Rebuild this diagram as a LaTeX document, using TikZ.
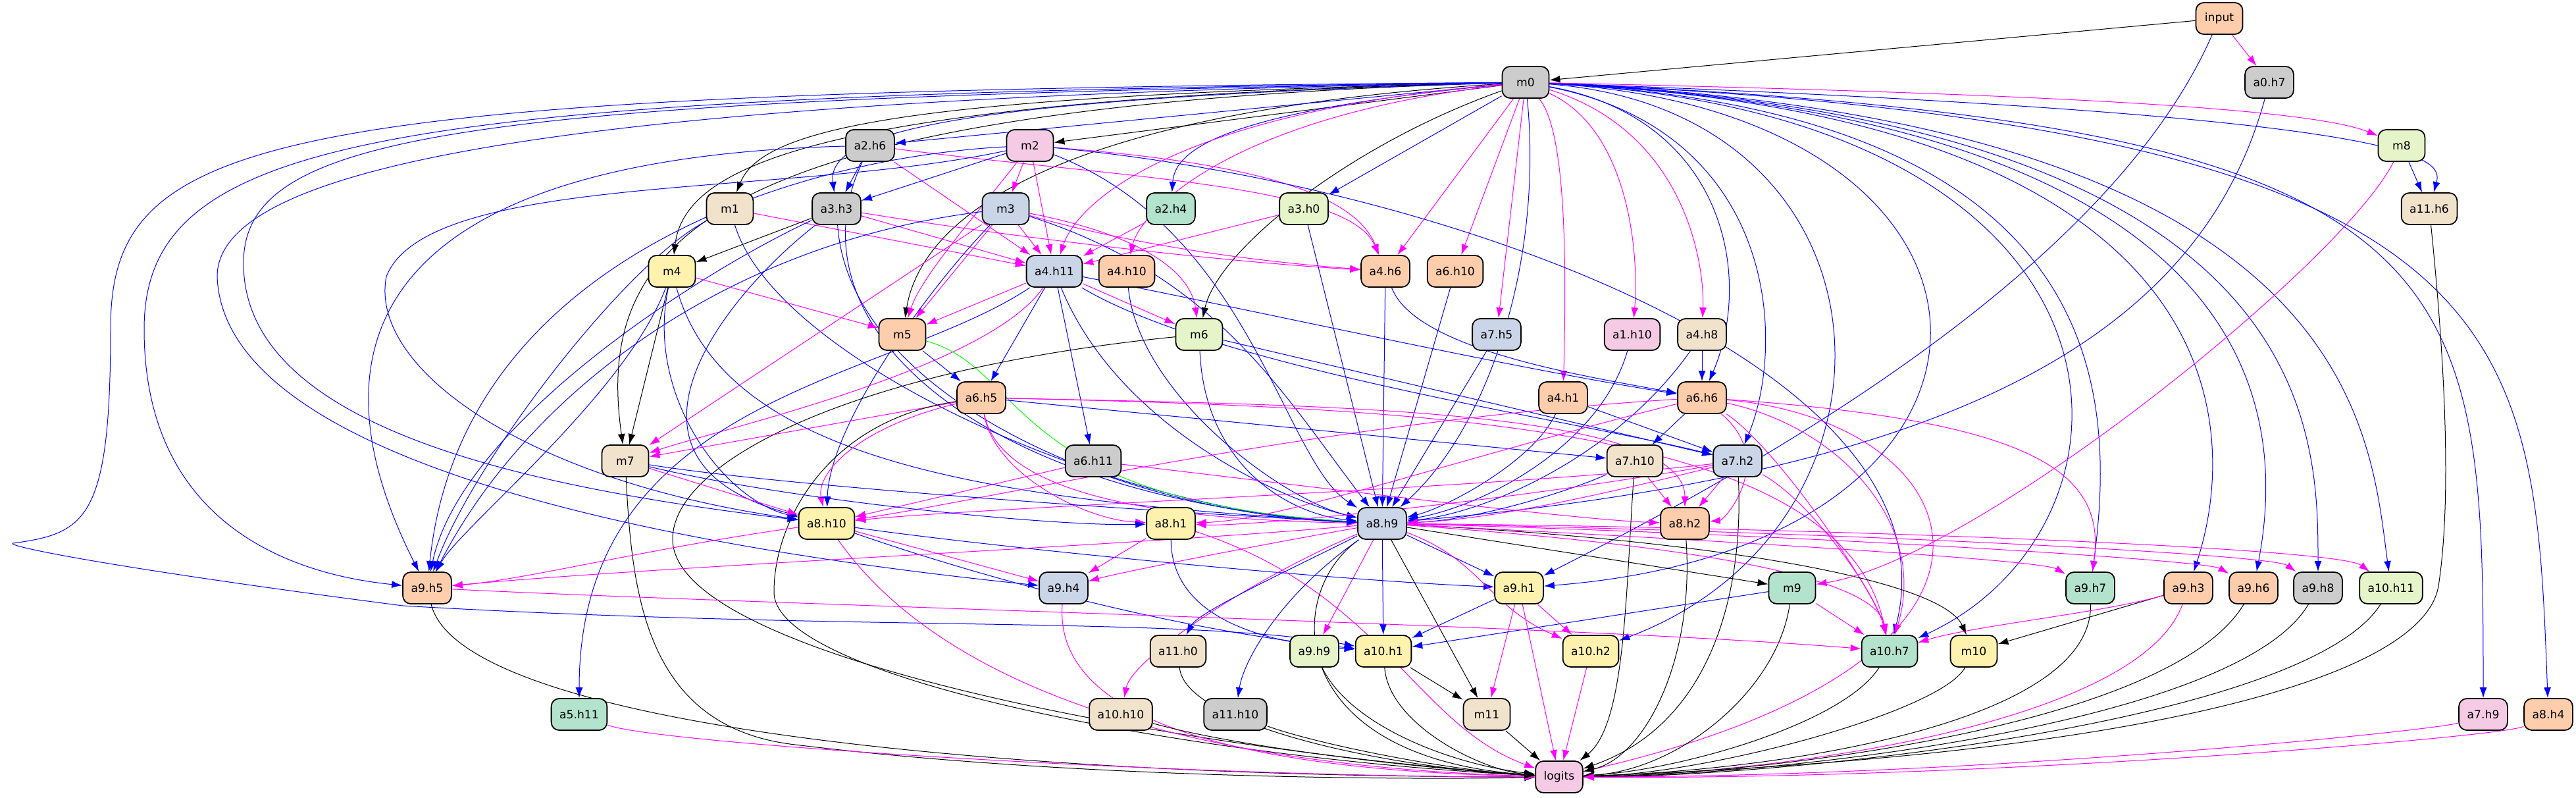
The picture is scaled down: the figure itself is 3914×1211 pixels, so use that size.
\documentclass[tikz,border=0pt]{standalone}
\usepackage{fontspec}
\setmainfont{DejaVu Sans}
\usetikzlibrary{arrows.meta}
\pgfdeclarelayer{back}
\pgfdeclarelayer{edges}
\pgfsetlayers{back,edges,main}
\definecolor{pgray}{HTML}{CCCCCC}
\definecolor{porange}{HTML}{FDCDAC}
\definecolor{pblue}{HTML}{CBD5E8}
\definecolor{ppink}{HTML}{F4CAE4}
\definecolor{plime}{HTML}{E6F5C9}
\definecolor{pyellow}{HTML}{FFF2AE}
\definecolor{pbeige}{HTML}{F1E2CC}
\definecolor{pgreen}{HTML}{B3E2CD}
\definecolor{qblue}{HTML}{0000FF}
\definecolor{qmagenta}{HTML}{FF00FF}
\definecolor{qgreen}{HTML}{00FF00}
\tikzstyle{block} = [rectangle, draw, line width=0.9pt, rounded corners=6pt, minimum width=35.5pt, minimum height=24pt, inner xsep=6.25pt, font=\fontsize{8.6}{10}\selectfont]
\tikzstyle{gblock} = [block, fill=pgray]
\tikzstyle{oblock} = [block, fill=porange]
\tikzstyle{bblock} = [block, fill=pblue]
\tikzstyle{pblock} = [block, fill=ppink]
\tikzstyle{lblock} = [block, fill=plime]
\tikzstyle{yblock} = [block, fill=pyellow]
\tikzstyle{eblock} = [block, fill=pbeige]
\tikzstyle{tblock} = [block, fill=pgreen]
\tikzstyle{line} = [draw, line width=0.5pt, -{Latex[length=8pt,width=5.5pt]}]
\tikzstyle{bline} = [line, qblue]
\tikzstyle{pline} = [line, qmagenta]
\tikzstyle{kline} = [line, black]
\tikzstyle{gline} = [line, qgreen]

\begin{document}
\begin{tikzpicture}[x=0.5pt, y=-0.5pt]
    \begin{pgfonlayer}{back}
    \path [fill=white] (0,0) rectangle (3914,1211);
    \end{pgfonlayer}
    \useasboundingbox (0,0) rectangle (3914,1211);
    % Place nodes
    \node [oblock] (input) at (3372,28) {input};
    \node [gblock] (m0) at (2318,125) {m0};
    \node [gblock] (a0h7) at (3448,125) {a0.h7};
    \node [gblock] (a2h6) at (1322,221) {a2.h6};
    \node [pblock] (m2) at (1565,221) {m2};
    \node [lblock] (m8) at (3649,221) {m8};
    \node [eblock] (m1) at (1109,317) {m1};
    \node [gblock] (a3h3) at (1271,317) {a3.h3};
    \node [bblock] (m3) at (1528,317) {m3};
    \node [tblock] (a2h4) at (1779,317) {a2.h4};
    \node [lblock] (a3h0) at (1981,317) {a3.h0};
    \node [eblock] (a11h6) at (3691,317) {a11.h6};
    \node [yblock] (m4) at (1021,412) {m4};
    \node [bblock] (a4h11) at (1602,412) {a4.h11};
    \node [oblock] (a4h10) at (1712,412) {a4.h10};
    \node [oblock] (a4h6) at (2105,412) {a4.h6};
    \node [oblock] (a6h10) at (2211,412) {a6.h10};
    \node [oblock] (m5) at (1371,508) {m5};
    \node [lblock] (m6) at (1822,508) {m6};
    \node [bblock] (a7h5) at (2274,508) {a7.h5};
    \node [pblock] (a1h10) at (2480,508) {a1.h10};
    \node [eblock] (a4h8) at (2586,508) {a4.h8};
    \node [oblock] (a6h5) at (1491,604) {a6.h5};
    \node [oblock] (a4h1) at (2375,604) {a4.h1};
    \node [oblock] (a6h6) at (2586,604) {a6.h6};
    \node [eblock] (m7) at (950,700) {m7};
    \node [gblock] (a6h11) at (1661,700) {a6.h11};
    \node [eblock] (a7h10) at (2484,700) {a7.h10};
    \node [bblock] (a7h2) at (2640,700) {a7.h2};
    \node [yblock] (a8h10) at (1256,795) {a8.h10};
    \node [yblock] (a8h1) at (1779,795) {a8.h1};
    \node [bblock] (a8h9) at (2100,795) {a8.h9};
    \node [oblock] (a8h2) at (2560,795) {a8.h2};
    \node [oblock] (a9h5) at (649,893) {a9.h5};
    \node [bblock] (a9h4) at (1616,893) {a9.h4};
    \node [yblock] (a9h1) at (2308,893) {a9.h1};
    \node [tblock] (m9) at (2723,893) {m9};
    \node [tblock] (a9h7) at (3176,893) {a9.h7};
    \node [oblock] (a9h3) at (3325,893) {a9.h3};
    \node [oblock] (a9h6) at (3424,893) {a9.h6};
    \node [gblock] (a9h8) at (3522,893) {a9.h8};
    \node [lblock] (a10h11) at (3633,893) {a10.h11};
    \node [eblock] (a11h0) at (1790,989) {a11.h0};
    \node [lblock] (a9h9) at (1997,989) {a9.h9};
    \node [yblock] (a10h1) at (2102,989) {a10.h1};
    \node [yblock] (a10h2) at (2417,989) {a10.h2};
    \node [tblock] (a10h7) at (2871,989) {a10.h7};
    \node [yblock] (m10) at (2999,989) {m10};
    \node [tblock] (a5h11) at (880,1085) {a5.h11};
    \node [eblock] (a10h10) at (1703,1085) {a10.h10};
    \node [gblock] (a11h10) at (1877,1085) {a11.h10};
    \node [eblock] (m11) at (2259,1085) {m11};
    \node [pblock] (a7h9) at (3773,1085) {a7.h9};
    \node [oblock] (a8h4) at (3872,1085) {a8.h4};
    \node [pblock] (logits) at (2369,1180) {logits};
    % Draw edges
    \begin{pgfonlayer}{edges}
    \path [kline] (input) -- (m0);
    \path [pline] (input) -- (a0h7);
    \path [bline] (input) .. controls (3200,420) and (2650,720) .. (a9h1);
    \path [bline] (a0h7) .. controls (3340,520) and (2950,720) .. (a8h9);
    % from m0
    \path [kline] (m0) -- (m2);
    \path [kline] (m0) .. controls (1400,145) and (1160,190) .. (m1);
    \path [kline] (m0) .. controls (1250,150) and (1040,250) .. (m4);
    \path [kline] (m0) .. controls (1600,170) and (1400,330) .. (m5);
    \path [kline] (m0) .. controls (2050,220) and (1850,380) .. (m6);
    \path [kline] (m0) .. controls (1100,160) and (900,350) .. (m7);
    \path [bline] (m0) -- (a2h6);
    \path [bline] (m0) .. controls (1450,150) and (1255,200) .. (a3h3);
    \path [bline] (m0) .. controls (1850,170) and (1785,230) .. (a2h4);
    \path [bline] (m0) -- (a3h0);
    \path [bline] (m0) .. controls (2345,400) and (2260,650) .. (a8h9);
    \path [bline] (m0) .. controls (2620,180) and (2665,420) .. (a6h6);
    \path [bline] (m0) .. controls (2700,200) and (2715,520) .. (a7h2);
    \path [bline] (m0) .. controls (2900,170) and (2920,800) .. (a10h2);
    \path [bline] (m0) .. controls (3120,170) and (3130,830) .. (a9h1);
    \path [bline] (m0) .. controls (3210,170) and (3215,600) .. (a9h7);
    \path [bline] (m0) .. controls (3290,175) and (3280,800) .. (a10h7);
    \path [bline] (m0) .. controls (3400,175) and (3405,650) .. (a9h3);
    \path [bline] (m0) .. controls (3470,180) and (3470,650) .. (a9h6);
    \path [bline] (m0) .. controls (3520,180) and (3522,650) .. (a9h8);
    \path [bline] (m0) .. controls (3580,180) and (3600,650) .. (a10h11);
    \path [bline] (m0) .. controls (3690,175) and (3712,240) .. (a11h6);
    \path [bline] (m0) .. controls (3760,185) and (3773,400) .. (a7h9);
    \path [bline] (m0) .. controls (3840,190) and (3850,500) .. (a8h4);
    \path [bline] (m0) .. controls (400,140) and (168,200) .. (168,500) .. controls (168,790) and (130,810) .. (20,825) .. controls (5,828) and (150,860) .. (612,920) .. controls (1300,960) and (1800,935) .. (a10h1);
    \path [bline] (m0) .. controls (600,145) and (219,200) .. (219,500) .. controls (219,780) and (420,870) .. (a9h5);
    \path [bline] (m0) .. controls (700,150) and (370,200) .. (370,400) .. controls (370,650) and (800,740) .. (a8h10);
    \path [bline] (m0) .. controls (800,150) and (330,260) .. (330,420) .. controls (340,700) and (1000,830) .. (a9h4);
    \path [pline] (m0) .. controls (1800,170) and (1640,300) .. (a4h11);
    \path [pline] (m0) .. controls (1850,180) and (1730,330) .. (a4h10);
    \path [pline] (m0) -- (a4h6);
    \path [pline] (m0) -- (a6h10);
    \path [pline] (m0) -- (a7h5);
    \path [pline] (m0) .. controls (2380,200) and (2380,400) .. (a4h1);
    \path [pline] (m0) .. controls (2480,200) and (2490,400) .. (a1h10);
    \path [pline] (m0) .. controls (2560,200) and (2590,400) .. (a4h8);
    \path [pline] (m0) .. controls (3000,140) and (3500,160) .. (m8);
    % layers 1 to 3
    \path [bline] (a2h6) -- (a3h3);
    \path [pline] (a2h6) -- (a4h11);
    \path [pline] (a2h6) .. controls (1700,270) and (2050,280) .. (a4h6);
    \path [bline] (a2h6) .. controls (600,240) and (450,500) .. (a9h5);
    \path [bline] (a2h6) .. controls (1190,500) and (1500,760) .. (a8h9);
    \path [pline] (m2) -- (m3);
    \path [pline] (m2) -- (a4h11);
    \path [pline] (m2) .. controls (1480,330) and (1400,420) .. (m5);
    \path [pline] (m2) .. controls (1800,240) and (2050,270) .. (a4h6);
    \path [bline] (m2) -- (a3h3);
    \path [bline] (m2) .. controls (1900,350) and (1950,700) .. (a8h9);
    \path [bline] (m2) .. controls (1200,240) and (700,400) .. (a9h5);
    \path [bline] (m2) .. controls (1200,300) and (650,260) .. (587,420) .. controls (560,560) and (800,730) .. (a8h10);
    \path [bline] (m2) .. controls (2200,280) and (2980,560) .. (a10h7);
    \path [pline] (m1) -- (a4h11);
    \path [bline] (m1) .. controls (950,400) and (720,700) .. (a9h5);
    \path [bline] (m1) .. controls (1180,550) and (1700,780) .. (a8h9);
    \path [kline] (a3h3) -- (m4);
    \path [pline] (a3h3) -- (a4h11);
    \path [pline] (a3h3) .. controls (1600,370) and (1900,400) .. (a4h6);
    \path [bline] (a3h3) .. controls (1050,420) and (700,650) .. (a9h5);
    \path [bline] (a3h3) .. controls (1100,450) and (900,700) .. (a8h10);
    \path [bline] (a3h3) .. controls (1290,600) and (1700,780) .. (a8h9);
    \path [pline] (m3) -- (a4h11);
    \path [pline] (m3) -- (m5);
    \path [pline] (m3) .. controls (1750,360) and (1810,420) .. (m6);
    \path [pline] (m3) -- (m7);
    \path [pline] (m3) .. controls (1750,380) and (1950,400) .. (a4h6);
    \path [bline] (m3) .. controls (1400,450) and (1260,650) .. (a8h10);
    \path [bline] (m3) .. controls (1100,370) and (800,600) .. (a9h5);
    \path [bline] (m3) .. controls (1850,420) and (1950,600) .. (a8h9);
    \path [pline] (a2h4) -- (a4h11);
    \path [pline] (a3h0) -- (a4h11);
    \path [bline] (a3h0) -- (a8h9);
    % layers 4 to 6
    \path [pline] (m4) -- (m5);
    \path [kline] (m4) -- (m7);
    \path [bline] (m4) .. controls (950,600) and (700,800) .. (a9h5);
    \path [bline] (m4) .. controls (980,600) and (1100,760) .. (a8h10);
    \path [bline] (m4) .. controls (1100,700) and (1500,760) .. (a8h9);
    \path [pline] (a4h11) -- (m5);
    \path [pline] (a4h11) -- (m6);
    \path [pline] (a4h11) .. controls (1500,560) and (1100,650) .. (m7);
    \path [bline] (a4h11) -- (a6h5);
    \path [bline] (a4h11) -- (a6h11);
    \path [bline] (a4h11) .. controls (1350,580) and (880,600) .. (a5h11);
    \path [bline] (a4h11) .. controls (1900,470) and (2300,560) .. (a6h6);
    \path [bline] (a4h11) .. controls (1850,560) and (2400,640) .. (a7h2);
    \path [bline] (a4h11) .. controls (1700,650) and (1950,760) .. (a8h9);
    \path [bline] (a4h10) .. controls (1730,600) and (1950,760) .. (a8h9);
    \path [bline] (a4h6) -- (a8h9);
    \path [bline] (a4h6) .. controls (2150,530) and (2400,570) .. (a6h6);
    \path [bline] (a6h10) -- (a8h9);
    \path [bline] (a7h5) -- (a8h9);
    \path [bline] (a1h10) .. controls (2430,680) and (2250,770) .. (a8h9);
    \path [bline] (a4h8) -- (a6h6);
    \path [bline] (a4h8) .. controls (2450,700) and (2250,780) .. (a8h9);
    \path [bline] (a4h1) .. controls (2330,700) and (2200,770) .. (a8h9);
    \path [bline] (a4h1) -- (a7h2);
    \path [bline] (m5) -- (a6h5);
    \path [gline] (m5) .. controls (1560,560) and (1530,760) .. (a8h9);
    \path [bline] (m6) .. controls (1830,700) and (1950,780) .. (a8h9);
    \path [bline] (m6) -- (a7h2);
    \path [kline] (m6) .. controls (1300,560) and (1020,700) .. (1022,820) .. controls (1025,1000) and (1800,1140) .. (logits);
    \path [pline] (a6h5) -- (m7);
    \path [pline] (a6h5) .. controls (1300,650) and (1240,720) .. (a8h10);
    \path [pline] (a6h5) .. controls (1510,720) and (1650,790) .. (a8h1);
    \path [pline] (a6h5) .. controls (1520,760) and (1800,790) .. (a8h9);
    \path [bline] (a6h5) -- (a7h10);
    \path [pline] (a6h5) .. controls (2000,615) and (2560,620) .. (a8h2);
    \path [pline] (a6h5) .. controls (2200,620) and (2800,650) .. (a10h7);
    \path [kline] (a6h5) .. controls (1250,640) and (1175,800) .. (1176,900) .. controls (1178,1030) and (1800,1150) .. (logits);
    \path [pline] (a6h11) -- (a8h10);
    \path [pline] (a6h11) .. controls (2000,740) and (2400,790) .. (a8h2);
    \path [bline] (a6h6) -- (a7h10);
    \path [pline] (a6h6) .. controls (2000,640) and (1500,760) .. (a8h10);
    \path [pline] (a6h6) .. controls (2200,700) and (1950,790) .. (a8h1);
    \path [pline] (a6h6) .. controls (2700,700) and (2620,790) .. (a8h2);
    \path [pline] (a6h6) .. controls (3100,640) and (3200,720) .. (a9h7);
    \path [pline] (a6h6) .. controls (2800,650) and (2930,800) .. (a10h7);
    \path [pline] (a6h6) .. controls (2700,680) and (2850,900) .. (a10h7);
    \path [pline] (a6h6) .. controls (3000,640) and (3150,1000) .. (logits);
    % layers 7 and 8
    \path [bline] (a7h10) .. controls (2400,740) and (2250,790) .. (a8h9);
    \path [pline] (a7h10) -- (a8h2);
    \path [kline] (a7h10) .. controls (2470,900) and (2470,1100) .. (logits);
    \path [pline] (a7h2) -- (a8h2);
    \path [pline] (a7h2) .. controls (2400,760) and (2250,790) .. (a8h9);
    \path [pline] (a7h2) .. controls (2300,740) and (1500,770) .. (a8h10);
    \path [pline] (a7h2) .. controls (2300,760) and (1900,800) .. (a8h1);
    \path [pline] (a7h2) .. controls (2750,760) and (2850,900) .. (a10h7);
    \path [kline] (a7h2) .. controls (2650,900) and (2600,1100) .. (logits);
    \path [pline] (m7) -- (a8h10);
    \path [bline] (m7) .. controls (1200,760) and (1600,800) .. (a8h1);
    \path [bline] (m7) .. controls (1200,740) and (1800,780) .. (a8h9);
    \path [kline] (m7) .. controls (960,900) and (980,1100) .. (1200,1130) .. controls (1600,1180) and (2100,1185) .. (logits);
    \path [pline] (a8h10) .. controls (1000,830) and (800,880) .. (a9h5);
    \path [pline] (a8h10) -- (a9h4);
    \path [bline] (a8h10) .. controls (1500,830) and (2000,880) .. (a9h1);
    \path [bline] (a8h10) .. controls (1500,880) and (1800,960) .. (a10h1);
    \path [pline] (a8h10) .. controls (1400,1000) and (1700,1160) .. (logits);
    \path [pline] (a8h1) -- (a9h4);
    \path [bline] (a8h1) .. controls (1780,930) and (1900,975) .. (a10h1);
    \path [pline] (a8h1) .. controls (2100,900) and (2150,1100) .. (logits);
    \path [bline] (a8h9) -- (a9h1);
    \path [bline] (a8h9) -- (a10h1);
    \path [pline] (a8h9) -- (a9h9);
    \path [kline] (a8h9) -- (m11);
    \path [kline] (a8h9) -- (m9);
    \path [kline] (a8h9) .. controls (2600,820) and (2950,880) .. (m10);
    \path [kline] (a8h9) .. controls (1950,900) and (1950,1150) .. (logits);
    \path [pline] (a8h9) .. controls (2250,850) and (2260,920) .. (a10h2);
    \path [pline] (a8h9) .. controls (1700,830) and (1000,860) .. (a9h5);
    \path [pline] (a8h9) .. controls (1900,830) and (1700,870) .. (a9h4);
    \path [pline] (a8h9) .. controls (1900,880) and (1720,1000) .. (a10h10);
    \path [bline] (a8h9) .. controls (1950,870) and (1820,930) .. (a11h0);
    \path [bline] (a8h9) .. controls (1950,900) and (1890,1000) .. (a11h10);
    \path [pline] (a8h9) .. controls (2600,820) and (3100,850) .. (a9h7);
    \path [pline] (a8h9) .. controls (2700,810) and (3350,850) .. (a9h6);
    \path [pline] (a8h9) .. controls (2700,805) and (3450,840) .. (a9h8);
    \path [pline] (a8h9) .. controls (2700,800) and (3550,830) .. (a10h11);
    \path [pline] (a8h9) .. controls (2600,830) and (2850,880) .. (a10h7);
    \path [kline] (a8h2) .. controls (2575,1000) and (2500,1150) .. (logits);
    % layers 9 to 11
    \path [bline] (a9h1) -- (a10h1);
    \path [pline] (a9h1) -- (a10h2);
    \path [pline] (a9h1) -- (m11);
    \path [pline] (a9h1) -- (logits);
    \path [kline] (a10h1) -- (m11);
    \path [kline] (a10h1) .. controls (2110,1100) and (2250,1170) .. (logits);
    \path [kline] (m11) -- (logits);
    \path [pline] (a10h2) -- (logits);
    \path [kline] (a9h9) .. controls (2050,1100) and (2200,1160) .. (logits);
    \path [pline] (m8) .. controls (3560,400) and (3000,850) .. (m9);
    \path [bline] (m8) -- (a11h6);
    \path [bline] (m9) -- (a10h1);
    \path [pline] (m9) -- (a10h7);
    \path [kline] (m9) .. controls (2700,1050) and (2550,1170) .. (logits);
    \path [kline] (a10h7) .. controls (2800,1100) and (2550,1170) .. (logits);
    \path [kline] (m10) .. controls (2950,1080) and (2600,1175) .. (logits);
    \path [kline] (a9h7) .. controls (3180,1100) and (2700,1170) .. (logits);
    \path [kline] (a9h3) -- (m10);
    \path [pline] (a9h3) .. controls (3200,930) and (3000,950) .. (a10h7);
    \path [pline] (a9h3) .. controls (3250,1100) and (2700,1175) .. (logits);
    \path [kline] (a9h6) .. controls (3300,1100) and (2700,1175) .. (logits);
    \path [kline] (a9h8) .. controls (3400,1100) and (2700,1178) .. (logits);
    \path [kline] (a10h11) .. controls (3500,1100) and (2700,1180) .. (logits);
    \path [kline] (a11h6) .. controls (3720,600) and (3722,780) .. (3705,890) .. controls (3680,1040) and (3200,1150) .. (logits);
    \path [pline] (a7h9) .. controls (3700,1110) and (3000,1180) .. (logits);
    \path [pline] (a8h4) .. controls (3800,1120) and (3000,1185) .. (logits);
    \path [kline] (a9h5) .. controls (700,1100) and (1500,1180) .. (logits);
    \path [pline] (a9h5) .. controls (1200,920) and (2400,950) .. (a10h7);
    \path [pline] (a9h4) .. controls (1600,1100) and (1900,1170) .. (logits);
    \path [pline] (a5h11) .. controls (1000,1130) and (1800,1180) .. (logits);
    \path [kline] (a11h0) .. controls (1800,1100) and (2100,1165) .. (logits);
    \path [kline] (a10h10) .. controls (1900,1140) and (2200,1170) .. (logits);
    \path [kline] (a11h10) .. controls (2000,1130) and (2200,1170) .. (logits);
    \end{pgfonlayer}
\end{tikzpicture}
\end{document}
